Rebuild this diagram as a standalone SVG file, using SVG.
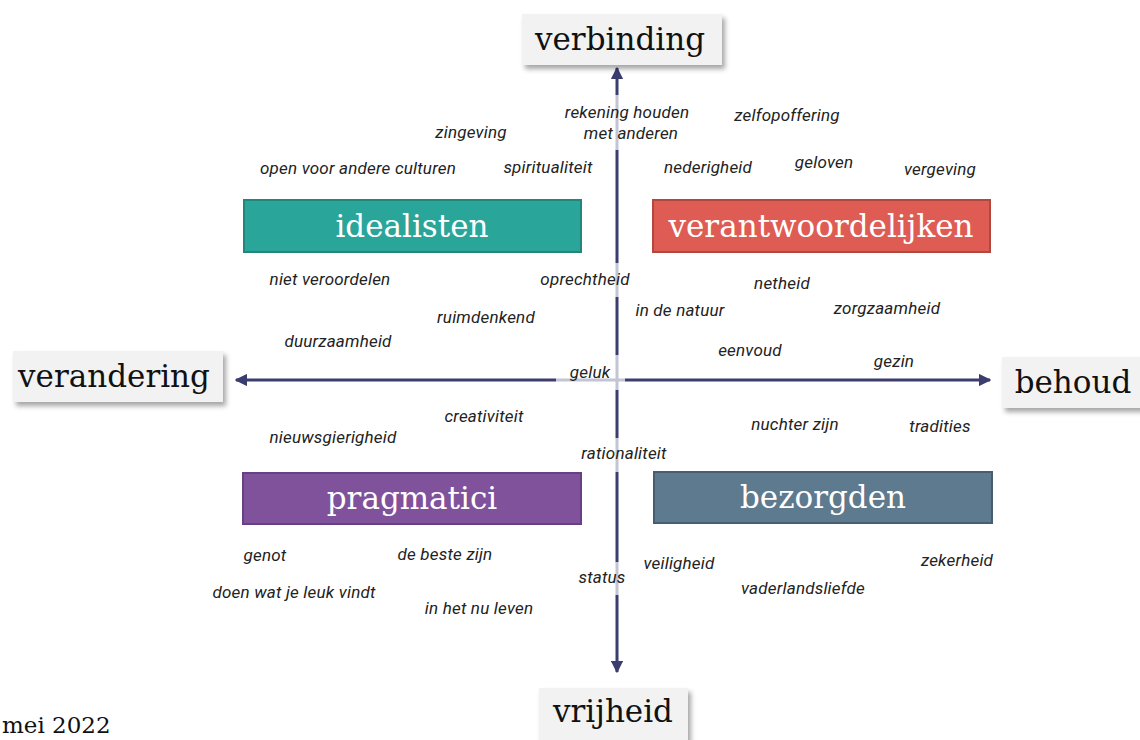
<svg xmlns="http://www.w3.org/2000/svg" width="1140" height="740" viewBox="0 0 1140 740">
<defs>
<filter id="sh" x="-10%" y="-20%" width="130%" height="150%">
<feDropShadow dx="3" dy="4" stdDeviation="2.5" flood-color="#000" flood-opacity="0.35"/>
</filter>
<marker id="ah" viewBox="0 0 10 10" refX="9" refY="5" markerWidth="4.2" markerHeight="4.2" orient="auto" markerUnits="strokeWidth">
<path d="M0,0 L10,5 L0,10 Z" fill="#3a3d6e"/>
</marker>
</defs>
<style>
.ax{fill:#f2f2f2;filter:url(#sh)}
.axt{font-family:"DejaVu Serif","Liberation Serif",serif;font-size:31px;fill:#111;text-anchor:middle}
.bt{font-family:"DejaVu Serif","Liberation Serif",serif;font-size:31px;fill:#fff;text-anchor:middle}
.lb{font-family:Roboto,"Liberation Sans",sans-serif;font-style:italic;font-size:17px;letter-spacing:0.2px;fill:#222;text-anchor:middle}
.ln{stroke:#3a3d6e;stroke-width:3;fill:none;marker-end:url(#ah)}
.fade{fill:#fff;opacity:0.7}
</style>
<rect width="1140" height="740" fill="#fff"/>
<g id="connectors">
<line class="ln" x1="617" y1="380" x2="617" y2="68"/>
<line class="ln" x1="617" y1="380" x2="617" y2="672"/>
<line class="ln" x1="617" y1="380" x2="236" y2="380"/>
<line class="ln" x1="617" y1="380" x2="990" y2="380"/>
<rect class="fade" x="613" y="95" width="8" height="55"/>
<rect class="fade" x="613" y="263" width="8" height="34"/>
<rect class="fade" x="613" y="355" width="8" height="35"/>
<rect class="fade" x="556" y="376" width="57" height="8"/>
<rect class="fade" x="621" y="376" width="4" height="8"/>
<rect class="fade" x="613" y="438" width="8" height="34"/>
<rect class="fade" x="613" y="562" width="8" height="33"/>
</g>
<g id="axis-verbinding"><rect class="ax" x="522" y="14" width="200" height="51"/><text class="axt" x="620" y="50">verbinding</text></g>
<g id="axis-verandering"><rect class="ax" x="13" y="351" width="210" height="51"/><text class="axt" x="114" y="387">verandering</text></g>
<g id="axis-behoud"><rect class="ax" x="1002" y="357" width="145" height="51"/><text class="axt" x="1073" y="393">behoud</text></g>
<g id="axis-vrijheid"><rect class="ax" x="539" y="688" width="149" height="60"/><text class="axt" x="613" y="722">vrijheid</text></g>
<g id="idealisten"><rect x="244" y="200" width="337" height="52" fill="#2aa59a" stroke="#22867d" stroke-width="2"/><text class="bt" x="412" y="237">idealisten</text></g>
<g id="verantwoordelijken"><rect x="653" y="200" width="337" height="52" fill="#de5c53" stroke="#b14840" stroke-width="2"/><text class="bt" x="821" y="237">verantwoordelijken</text></g>
<g id="pragmatici"><rect x="243" y="473" width="338" height="51" fill="#7f529b" stroke="#683f82" stroke-width="2"/><text class="bt" x="412" y="509">pragmatici</text></g>
<g id="bezorgden"><rect x="654" y="472" width="338" height="51" fill="#5e7a8e" stroke="#465e70" stroke-width="2"/><text class="bt" x="823" y="508">bezorgden</text></g>
<g id="labels">
<text class="lb" x="627" y="118">rekening houden</text>
<text class="lb" x="631" y="139">met anderen</text>
<text class="lb" x="471" y="138">zingeving</text>
<text class="lb" x="787" y="121">zelfopoffering</text>
<text class="lb" x="358" y="174">open voor andere culturen</text>
<text class="lb" x="548" y="173">spiritualiteit</text>
<text class="lb" x="708" y="173">nederigheid</text>
<text class="lb" x="824" y="168">geloven</text>
<text class="lb" x="940" y="175">vergeving</text>
<text class="lb" x="330" y="285">niet veroordelen</text>
<text class="lb" x="585" y="285">oprechtheid</text>
<text class="lb" x="782" y="289">netheid</text>
<text class="lb" x="887" y="314">zorgzaamheid</text>
<text class="lb" x="486" y="323">ruimdenkend</text>
<text class="lb" x="680" y="316">in de natuur</text>
<text class="lb" x="338" y="347">duurzaamheid</text>
<text class="lb" x="750" y="356">eenvoud</text>
<text class="lb" x="894" y="367">gezin</text>
<text class="lb" x="590" y="378">geluk</text>
<text class="lb" x="484" y="422">creativiteit</text>
<text class="lb" x="333" y="443">nieuwsgierigheid</text>
<text class="lb" x="795" y="430">nuchter zijn</text>
<text class="lb" x="940" y="432">tradities</text>
<text class="lb" x="624" y="459">rationaliteit</text>
<text class="lb" x="265" y="561">genot</text>
<text class="lb" x="445" y="560">de beste zijn</text>
<text class="lb" x="957" y="566">zekerheid</text>
<text class="lb" x="679" y="569">veiligheid</text>
<text class="lb" x="602" y="583">status</text>
<text class="lb" x="803" y="594">vaderlandsliefde</text>
<text class="lb" x="294" y="598">doen wat je leuk vindt</text>
<text class="lb" x="479" y="614">in het nu leven</text>
</g>
<text x="2" y="733" font-family="DejaVu Serif, Liberation Serif, serif" font-size="23" fill="#111">mei 2022</text>
</svg>
